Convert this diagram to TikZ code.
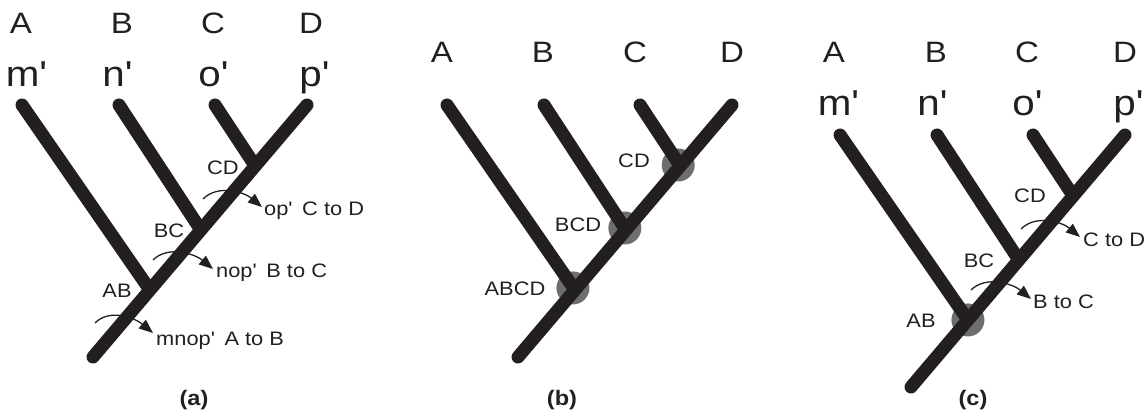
\documentclass[tikz,border=0pt]{standalone}
\usepackage{fontspec}
\setmainfont{Liberation Sans}[FakeStretch=1.12]
\usetikzlibrary{arrows.meta,calc}
\definecolor{ink}{RGB}{35,31,32}
\definecolor{hubgray}{RGB}{109,110,113}
\newcommand\prm{\textquotesingle}
\begin{document}
\begin{tikzpicture}[x=1pt,y=-1pt,
  trunk/.style={draw=ink,line width=13pt,line cap=round},
  twig/.style={draw=ink,line width=13pt,line cap=butt},
  twigtop/.style={fill=ink},
  big/.style={font=\fontsize{29.5}{29.5}\selectfont,text=ink,inner sep=0pt,anchor=base},
  primes/.style={font=\fontsize{36}{36}\selectfont,text=ink,inner sep=0pt,anchor=base},
  lab/.style={font=\fontsize{19.5}{19.5}\selectfont,text=ink,inner sep=0pt,anchor=base},
  note/.style={font=\fontsize{19.5}{19.5}\selectfont,text=ink,inner sep=0pt,anchor=base west},
  captxt/.style={font=\fontsize{21}{21}\selectfont\bfseries,text=ink,inner sep=0pt,anchor=base},
  swing/.style={draw=ink,line width=1.3pt,-{Triangle[length=14pt,width=11pt]}},
  hub/.style={fill=hubgray}]
\useasboundingbox (0,0) rectangle (1148,414);

% ---------- panel (a) ----------
\coordinate (aT) at (307,105);
\coordinate (aR) at (93,357);
\coordinate (aA) at (22,105);
\coordinate (aB) at (119,105);
\coordinate (aC) at (215,105);
\coordinate (aAB) at ($(aT)!0.734!(aR)$);
\coordinate (aBC) at ($(aT)!0.496!(aR)$);
\coordinate (aCD) at ($(aT)!0.242!(aR)$);
\draw[twig] (aA) -- (aAB);
\draw[twig] (aB) -- (aBC);
\draw[twig] (aC) -- (aCD);
\fill[twigtop] (aA) circle (6.5);
\fill[twigtop] (aB) circle (6.5);
\fill[twigtop] (aC) circle (6.5);
\draw[trunk] (aT) -- (aR);

\node[big] (aLA) at (21,34) {A};
\node[big] (aLB) at (122,34) {B};
\node[big] (aLC) at (213,34) {C};
\node[big] (aLD) at (311,34) {D};
\node[primes] (aPm) at (26,87) {m\prm};
\node[primes] (aPn) at (117,87) {n\prm};
\node[primes] (aPo) at (213,87) {o\prm};
\node[primes] (aPp) at (314,87) {p\prm};

\node[lab] (aLCD) at (223,175) {CD};
\node[lab] (aLBC) at (169,237) {BC};
\node[lab] (aLAB) at (117,297) {AB};

\coordinate (as1) at (203,199);
\coordinate (ae1) at (262,207);
\coordinate (as2) at (153,260);
\coordinate (ae2) at (213,269);
\coordinate (as3) at (95,323);
\coordinate (ae3) at (153,333);
\draw[swing] (as1) .. controls ($(as1)+(15,-15)$) and ($(ae1)+(-18,-15)$) .. (ae1);
\draw[swing] (as2) .. controls ($(as2)+(15,-15)$) and ($(ae2)+(-18,-15)$) .. (ae2);
\draw[swing] (as3) .. controls ($(as3)+(15,-15)$) and ($(ae3)+(-18,-15)$) .. (ae3);
\node[note] (an1) at (264,215) {op\prm\hspace{10pt}C to D};
\node[note] (an2) at (216,277) {nop\prm\hspace{10pt}B to C};
\node[note] (an3) at (156,345) {mnop\prm\hspace{10pt}A to B};

\node[captxt] (capa) at (194,405) {(a)};

% ---------- panel (b) ----------
\coordinate (bT) at (732,105);
\coordinate (bR) at (518,357);
\coordinate (bA) at (447,105);
\coordinate (bB) at (544,105);
\coordinate (bC) at (640,105);
\coordinate (bAB) at ($(bT)!0.734!(bR)$);
\coordinate (bBC) at ($(bT)!0.496!(bR)$);
\coordinate (bCD) at ($(bT)!0.242!(bR)$);
\fill[hub] ($(bAB)+(-2,-2)$) circle (16.5);
\fill[hub] ($(bBC)+(-1,-2)$) circle (16.5);
\fill[hub] ($(bCD)+(-2,-1)$) circle (16.5);
\draw[twig] (bA) -- (bAB);
\draw[twig] (bB) -- (bBC);
\draw[twig] (bC) -- (bCD);
\fill[twigtop] (bA) circle (6.5);
\fill[twigtop] (bB) circle (6.5);
\fill[twigtop] (bC) circle (6.5);
\draw[trunk] (bT) -- (bR);

\node[big] (bLA) at (442,63) {A};
\node[big] (bLB) at (543,63) {B};
\node[big] (bLC) at (635,63) {C};
\node[big] (bLD) at (732,63) {D};

\node[lab] (bLCD) at (634,168) {CD};
\node[lab] (bLBCD) at (578,232) {BCD};
\node[lab] (bLABCD) at (515,295) {ABCD};

\node[captxt] (capb) at (562,405) {(b)};

% ---------- panel (c) ----------
\coordinate (cT) at (1125,135);
\coordinate (cR) at (911,387);
\coordinate (cA) at (840,135);
\coordinate (cB) at (937,135);
\coordinate (cC) at (1033,135);
\coordinate (cAB) at ($(cT)!0.734!(cR)$);
\coordinate (cBC) at ($(cT)!0.496!(cR)$);
\coordinate (cCD) at ($(cT)!0.242!(cR)$);
\fill[hub] (cAB) circle (16.5);
\draw[twig] (cA) -- (cAB);
\draw[twig] (cB) -- (cBC);
\draw[twig] (cC) -- (cCD);
\fill[twigtop] (cA) circle (6.5);
\fill[twigtop] (cB) circle (6.5);
\fill[twigtop] (cC) circle (6.5);
\draw[trunk] (cT) -- (cR);

\node[big] (cLA) at (834,63) {A};
\node[big] (cLB) at (936,63) {B};
\node[big] (cLC) at (1027,63) {C};
\node[big] (cLD) at (1125,63) {D};
\node[primes] (cPm) at (838,116) {m\prm};
\node[primes] (cPn) at (932,116) {n\prm};
\node[primes] (cPo) at (1027,116) {o\prm};
\node[primes] (cPp) at (1128,116) {p\prm};

\node[lab] (cLCD) at (1030,203) {CD};
\node[lab] (cLBC) at (979,267) {BC};
\node[lab] (cLAB) at (921,327) {AB};

\coordinate (cs1) at (1021,229);
\coordinate (ce1) at (1080,237);
\coordinate (cs2) at (971,290);
\coordinate (ce2) at (1031,299);
\draw[swing] (cs1) .. controls ($(cs1)+(15,-15)$) and ($(ce1)+(-18,-15)$) .. (ce1);
\draw[swing] (cs2) .. controls ($(cs2)+(15,-15)$) and ($(ce2)+(-18,-15)$) .. (ce2);
\node[note] (cn1) at (1083,246) {C to D};
\node[note] (cn2) at (1033,308) {B to C};

\node[captxt] (capc) at (973,405) {(c)};
\end{tikzpicture}
\end{document}
